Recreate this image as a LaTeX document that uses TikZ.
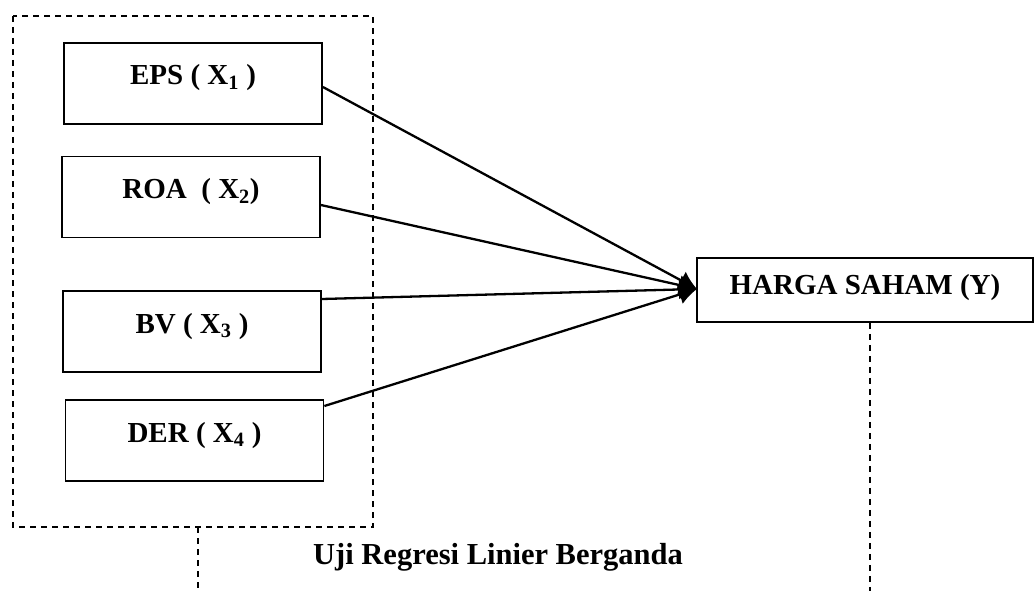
\documentclass[tikz,border=0pt]{standalone}
\usepackage{fontspec}
\setmainfont{Liberation Serif}
\usetikzlibrary{arrows.meta}
\begin{document}
\begin{tikzpicture}[x=1pt,y=-1pt,
  varbox/.style={draw,line width=1.8pt,minimum width=258pt,minimum height=81pt,
    inner sep=0pt,text height=20pt,text depth=17pt,
    font=\fontsize{29}{31}\selectfont\bfseries},
  ybox/.style={draw,line width=1.8pt,minimum width=336pt,minimum height=64pt,
    inner sep=0pt,text height=20pt,text depth=11pt,
    font=\fontsize{29}{31}\selectfont\bfseries},
  grp/.style={draw,line width=1.6pt,dash pattern=on 6pt off 5pt},
  conn/.style={line width=2.3pt,-{Latex[length=18pt,width=20pt]}},
  title/.style={font=\fontsize{30.5}{32}\selectfont\bfseries}
]
\useasboundingbox (0,0) rectangle (1034,591);
\node[varbox] (eps) at (193,83.5) {EPS ( X\textsubscript{1} )};
\node[varbox] (roa) at (191,197) {ROA\ \ ( X\textsubscript{2})};
\node[varbox] (bv)  at (192,331.5) {BV ( X\textsubscript{3} )};
\node[varbox] (der) at (194.5,440.5) {DER ( X\textsubscript{4} )};
\node[ybox] (y) at (865,290) {HARGA SAHAM (Y)};
\coordinate (g1) at (13,16);
\coordinate (g2) at (373,527);
\draw[grp] (g1) rectangle (g2);
\coordinate (gb) at (198,527);
\coordinate (ge) at (198,591);
\coordinate (ye) at (870,591);
\draw[grp] (gb) -- (ge);
\draw[grp] (y.south -| ye) -- (ye);
\coordinate (tip) at (697,289);
\draw[conn] (eps.east |- 0,87) -- (tip);
\draw[conn] (roa.east |- 0,205) -- (tip);
\draw[conn] (bv.east |- 0,299) -- (tip);
\draw[conn] (der.east |- 0,406) -- (tip);
\node[title] (t) at (498,557) {Uji Regresi Linier Berganda};
\end{tikzpicture}
\end{document}
